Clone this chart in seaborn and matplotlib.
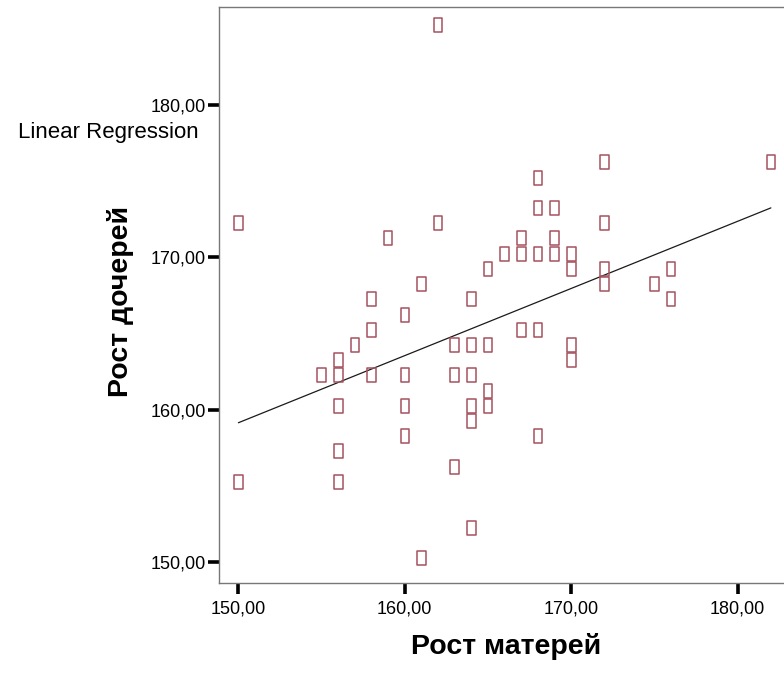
import numpy as np
import pandas as pd
import matplotlib
matplotlib.use("Agg")
import matplotlib.pyplot as plt
from matplotlib.path import Path
import seaborn as sns

# Data (mother height, daughter height)
mother = [150, 150, 155, 156, 156, 156, 156, 156, 157, 158, 158, 158, 159,
          160, 160, 160, 160, 161, 161, 162, 162, 163, 163, 163,
          164, 164, 164, 164, 164, 164, 165, 165, 165, 165, 166,
          167, 167, 167, 168, 168, 168, 168, 168, 169, 169, 169,
          170, 170, 170, 170, 172, 172, 172, 172, 175, 176, 176, 182]
daughter = [172, 155, 162, 163, 162, 160, 157, 155, 164, 167, 165, 162, 171,
            166, 162, 160, 158, 168, 150, 185, 172, 164, 162, 156,
            167, 164, 162, 160, 159, 152, 169, 164, 161, 160, 170,
            171, 170, 165, 175, 173, 170, 165, 158, 173, 171, 170,
            170, 169, 164, 163, 176, 172, 169, 168, 168, 169, 167, 176]
x_ticks = [150, 160, 170, 180]
y_ticks = [150, 160, 170, 180]
x_label = "Рост матерей"
y_label = "Рост дочерей"
fit_label = "Linear Regression"

df = pd.DataFrame({"mother": mother, "daughter": daughter})

sns.set_style("ticks")
plt.rcParams["font.family"] = ["Liberation Sans", "DejaVu Sans"]

fig = plt.figure(figsize=(7.84, 6.74), dpi=100)
W, H = 784, 674
left_px, right_px, top_px, bottom_px = 219.4, 784, 7.3, 583
ax = fig.add_axes([left_px / W, (H - bottom_px) / H,
                   (right_px - left_px) / W, (bottom_px - top_px) / H])

# hollow tall box marker, drawn slightly above the data point (like the glyph boxes)
verts = [(-4.3, -3.3), (4.3, -3.3), (4.3, 10.7), (-4.3, 10.7), (-4.3, -3.3)]
codes = [Path.MOVETO, Path.LINETO, Path.LINETO, Path.LINETO, Path.CLOSEPOLY]
box = Path(verts, codes)
msize = 2 * 10.7 * 72 / 100  # points

mark_col = "#a6525f"
sns.scatterplot(data=df, x="mother", y="daughter", ax=ax, marker=box,
                s=msize ** 2, facecolor="none", edgecolor=mark_col,
                linewidth=1.1, legend=False, zorder=3)
sns.regplot(data=df, x="mother", y="daughter", ax=ax, scatter=False,
            ci=None, color="#1a1a1a", line_kws={"linewidth": 0.9})

ax.set_xlim(148.858, 182.788)
ax.set_ylim(148.60, 186.43)
ax.set_xticks(x_ticks)
ax.set_yticks(y_ticks)
fmt = lambda v: f"{v:.2f}".replace(".", ",")
ax.set_xticklabels([fmt(v) for v in x_ticks])
ax.set_yticklabels([fmt(v) for v in y_ticks])
ax.tick_params(axis="both", direction="out", length=8, width=2.6,
               color="black", labelsize=13, labelcolor="black",
               bottom=True, left=True, top=False, right=False)
ax.tick_params(axis="x", pad=4.5)
ax.tick_params(axis="y", pad=1.5)

for side in ["top", "left", "bottom"]:
    ax.spines[side].set_visible(True)
    ax.spines[side].set_color("#777777")
    ax.spines[side].set_linewidth(1.0)
ax.spines["right"].set_visible(False)

ax.set_xlabel(x_label, fontsize=20.5, fontweight="bold", color="black")
ax.set_ylabel(y_label, fontsize=20.5, fontweight="bold", color="black")
ax.xaxis.set_label_coords(0.508, -0.087)
ax.yaxis.set_label_coords(-0.151, 0.489)

fig.text(18 / W, (H - 138) / H, fit_label, fontsize=16, ha="left",
         va="baseline", color="black")

fig.savefig("out.png", dpi=100, facecolor="white")
